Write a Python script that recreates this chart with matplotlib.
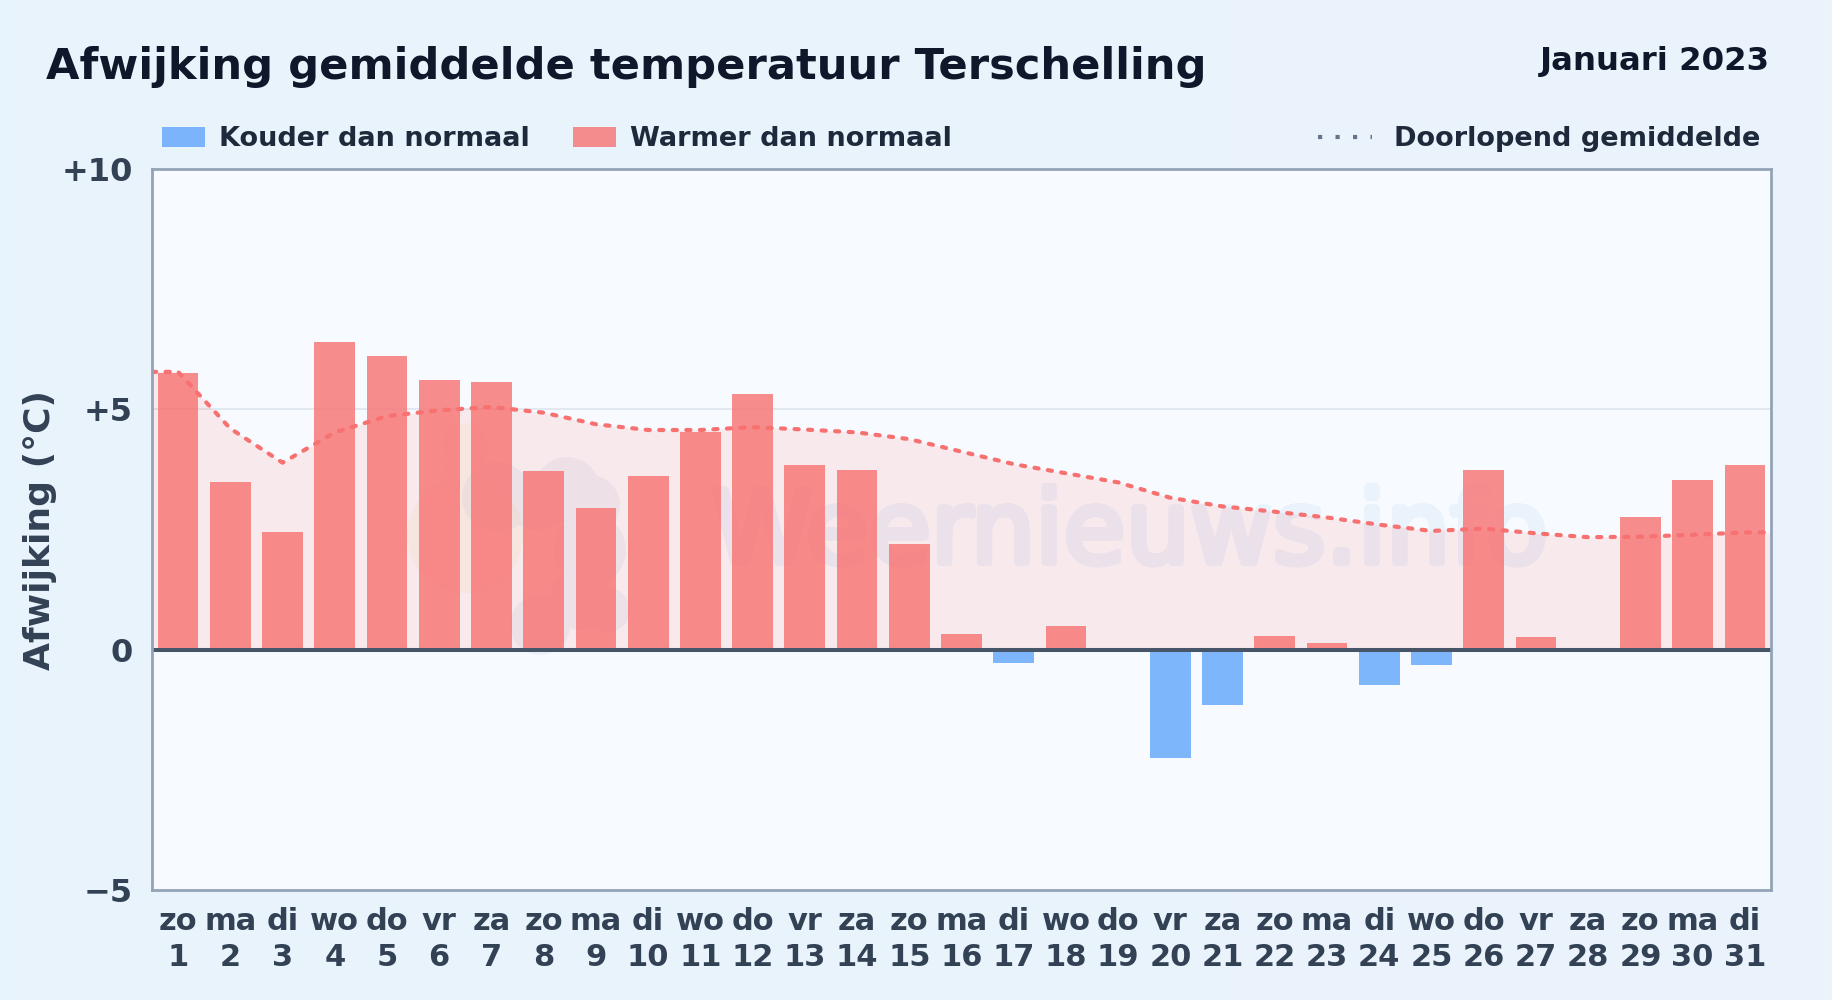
import numpy as np
import matplotlib
matplotlib.use("Agg")
import matplotlib.pyplot as plt
import matplotlib.patheffects as pe
from matplotlib.colors import LinearSegmentedColormap
from matplotlib.patches import Patch, PathPatch
from matplotlib.path import Path
from matplotlib.transforms import Affine2D
from matplotlib.lines import Line2D

plt.rcParams['font.family'] = ['DejaVu Sans']

title = "Afwijking gemiddelde temperatuur Terschelling"
period = "Januari 2023"
ylabel = "Afwijking (°C)"
watermark = "Weernieuws.info"
legend_cold = "Kouder dan normaal"
legend_warm = "Warmer dan normaal"
legend_avg = "Doorlopend gemiddelde"

days = list(range(1, 32))
weekdays = ["zo","ma","di","wo","do","vr","za","zo","ma","di","wo","do","vr","za","zo","ma",
            "di","wo","do","vr","za","zo","ma","di","wo","do","vr","za","zo","ma","di"]
deviation = [5.76,3.49,2.45,6.41,6.10,5.62,5.57,3.72,2.95,3.62,4.53,5.31,3.85,3.74,2.20,0.33,
             -0.28,0.50,0.0,-2.25,-1.15,0.29,0.13,-0.74,-0.32,3.74,0.27,0.0,2.77,3.54,3.85]
running_mean = [5.78,4.60,3.89,4.52,4.86,4.98,5.05,4.93,4.69,4.57,4.57,4.63,4.58,4.52,4.38,4.12,
                3.86,3.67,3.48,3.16,2.98,2.87,2.75,2.60,2.47,2.52,2.42,2.34,2.35,2.39,2.44]
y_ticks = [-5, 0, 5, 10]
y_tick_labels = ["\u22125", "0", "+5", "+10"]

FIG_BG = "#e9f3fc"
PLOT_BG = "#f7fbff"
RED = "#f87171"
BLUE = "#60a5fa"

W, H = 1832, 1000
fig = plt.figure(figsize=(W/100, H/100), dpi=100, facecolor=FIG_BG)

# very subtle page gradient
bg = fig.add_axes([0, 0, 1, 1], zorder=-10)
bg.axis("off")
bg.imshow(np.linspace(0, 1, 256).reshape(1, -1), aspect="auto", extent=(0, 1, 0, 1),
          cmap=LinearSegmentedColormap.from_list("page", ["#e8f4fd", "#ebf3fb"]))

L, R, T, B = 152, 1771, 169, 890
ax = fig.add_axes([L/W, 1-B/H, (R-L)/W, (B-T)/H], facecolor=PLOT_BG)
ax.set_xlim(0.5, 31.5)
ax.set_ylim(-5, 10)


class Embolden(pe.AbstractPathEffect):
    """Thicken glyphs by a union of shifted copies, so the alpha stays uniform."""
    def __init__(self, radius, steps=16):
        super().__init__()
        self.radius = radius
        self.steps = steps

    def draw_path(self, renderer, gc, tpath, affine, rgbFace=None):
        full = affine.transform_path(tpath)
        angles = np.linspace(0, 2*np.pi, self.steps, endpoint=False)
        copies = [full] + [full.transformed(Affine2D().translate(self.radius*np.cos(a),
                                                                 self.radius*np.sin(a)))
                           for a in angles]
        gc0 = renderer.new_gc()
        gc0.copy_properties(gc)
        gc0.set_linewidth(0)
        renderer.draw_path(gc0, Path.make_compound_path(*copies), Affine2D(), rgbFace)
        gc0.restore()


# faint watermark logo: union of circles, placed in display pixels (y measured from the top)
def blob(circles):
    parts = [Path.unit_circle().transformed(Affine2D().scale(r).translate(x, H - y))
             for x, y, r in circles]
    return Path.make_compound_path(*parts)

sun = blob([(465, 535, 58), (465, 445, 22), (465, 465, 20)])
cloud = blob([(497, 497, 35), (567, 490, 33), (590, 505, 30), (535, 500, 30), (590, 550, 36),
              (540, 625, 30), (608, 610, 22), (580, 600, 30)])
ax.add_patch(PathPatch(sun, transform=Affine2D(), fc="#fde68a", ec="none", alpha=0.12, zorder=1))
ax.add_patch(PathPatch(cloud, transform=Affine2D(), fc="#94a3c8", ec="none", alpha=0.10, zorder=1.1))
wm = ax.text(1130/W, 1-535/H, watermark, transform=fig.transFigure, fontsize=73, color="#5b8fe0",
             alpha=0.08, ha="center", va="center", zorder=1.2)
wm.set_path_effects([Embolden(3.0)])

ax.grid(False)
ax.axhline(5, color="#e2e8f0", lw=1.4, zorder=1.5)

ax.fill_between(np.r_[0.5, days, 31.5], 0, np.r_[running_mean[0], running_mean, running_mean[-1]],
                color=RED, alpha=0.13, lw=0, zorder=2)
colors = [BLUE if v < 0 else RED for v in deviation]
ax.bar(days, deviation, width=0.78, color=colors, alpha=0.8, lw=0, zorder=3)
ax.axhline(0, color="#475569", lw=2.9, zorder=4)
ax.plot(np.r_[0.5, days, 31.5], np.r_[running_mean[0], running_mean, running_mean[-1]],
        color=RED, lw=3.0, linestyle=(0, (1.0, 2.25)), dash_capstyle="round",
        solid_joinstyle="round", zorder=5)

for s in ax.spines.values():
    s.set_color("#94a3b8")
    s.set_linewidth(2)
    s.set_zorder(6)

ax.set_xticks(days)
ax.set_xticklabels([f"{w}\n{d}" for w, d in zip(weekdays, days)], fontsize=22,
                   fontweight="bold", color="#334155", linespacing=1.28)
ax.set_yticks(y_ticks)
ax.set_yticklabels(y_tick_labels, fontsize=23, fontweight="bold", color="#334155")
ax.tick_params(axis="x", length=0, pad=12.5)
ax.tick_params(axis="y", length=0, pad=14)

fig.text(40/W, 1-530/H, ylabel, rotation=90, fontsize=26, fontweight="bold", color="#334155",
         ha="center", va="center")
fig.text(46/W, 1-79/H, title, fontsize=31.18, fontweight="bold", color="#0f172a", ha="left", va="baseline")
fig.text(1770/W, 1-70/H, period, fontsize=23.3, fontweight="bold", color="#0f172a", ha="right", va="baseline")

h1 = Patch(fc=BLUE, alpha=0.8, ec="none", label=legend_cold)
h2 = Patch(fc=RED, alpha=0.8, ec="none", label=legend_warm)
h3 = Line2D([], [], color="#64748b", lw=3.0, linestyle=(0, (1.0, 3.2)), label=legend_avg)
leg = fig.legend(handles=[h1, h2], loc="center left", bbox_to_anchor=(162/W, 1-139.5/H), ncol=2,
                 frameon=False, handlelength=1.6, handleheight=0.72,
                 handletextpad=0.5, columnspacing=1.6, borderpad=0, borderaxespad=0,
                 labelcolor="#1e293b", prop={"weight": "bold", "size": 19.5})
leg2 = fig.legend(handles=[h3], loc="center right", bbox_to_anchor=(1760/W, 1-139.5/H),
                  frameon=False, handlelength=2.0, handletextpad=0.8, borderpad=0, borderaxespad=0,
                  labelcolor="#1e293b", prop={"weight": "bold", "size": 19.5})
fig.savefig("out.png", dpi=100, facecolor=FIG_BG)
